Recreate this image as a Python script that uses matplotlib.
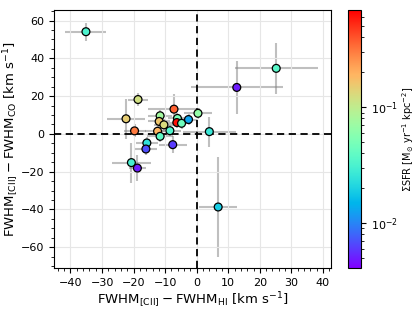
import numpy as np
import matplotlib
matplotlib.use("Agg")
import matplotlib.pyplot as plt
from matplotlib.colors import LogNorm

# FWHM differences (km/s)
d_hi = [-35.1, 25.2, 12.7, -18.6, -7.2, -22.4, -11.6, -11.9, -10.4, -6.1,
        -6.3, -4.8, -2.6, 0.4, 4.0, -19.7, -12.4, -8.5, -11.6, -15.8,
        -16.1, -7.6, -20.7, -18.8, 6.8]
d_co = [54.1, 34.7, 24.6, 18.2, 13.1, 8.0, 9.6, 6.6, 4.8, 8.2,
        6.0, 5.6, 7.6, 10.9, 1.2, 1.6, 1.4, 1.7, -1.3, -4.8,
        -8.0, -5.7, -15.2, -18.1, -38.7]
err_hi = [6.5, 13.2, 14.5, 3.2, 8.2, 5.9, 3.7, 3.5, 3.0, 3.0,
          3.0, 3.0, 3.0, 4.3, 8.5, 3.5, 4.0, 3.5, 4.0, 3.5,
          3.5, 4.5, 6.3, 2.8, 6.1]
err_co = [4.8, 13.4, 14.1, 3.5, 8.1, 10.6, 3.0, 3.0, 3.0, 3.0,
          3.0, 3.0, 3.0, 3.0, 8.0, 3.5, 3.0, 3.0, 3.0, 3.0,
          3.0, 4.5, 10.6, 6.8, 26.5]
sfr = [0.032, 0.036, 0.005, 0.12, 0.36, 0.15, 0.075, 0.16, 0.13, 0.05,
       0.62, 0.045, 0.013, 0.065, 0.026, 0.30, 0.19, 0.033, 0.038, 0.024,
       0.0068, 0.006, 0.03, 0.005, 0.019]

fig = plt.figure(figsize=(4.16, 3.12), dpi=100)
ax = fig.add_axes([0.130, 0.141, 0.666, 0.827])
cax = fig.add_axes([0.837, 0.141, 0.031, 0.827])

ax.grid(True, color="0.9", lw=0.8, zorder=0)
ax.errorbar(d_hi, d_co, xerr=err_hi, yerr=err_co, fmt="none",
            ecolor="grey", alpha=0.5, elinewidth=1.5, zorder=1)
ax.axhline(0, color="k", ls=(0, (4, 2.5)), lw=1.3, zorder=2)
ax.axvline(0, color="k", ls=(0, (4, 2.5)), lw=1.3, zorder=2)
sc = ax.scatter(d_hi, d_co, c=sfr, cmap="rainbow",
                norm=LogNorm(vmin=0.0041, vmax=0.69),
                s=32, edgecolors="k", linewidths=0.9, zorder=3)

ax.set_xlim(-45.2, 42.6)
ax.set_ylim(-71, 65.6)
ax.set_xticks(range(-40, 41, 10))
ax.set_yticks(range(-60, 61, 20))
ax.minorticks_on()
ax.tick_params(labelsize=8)
ax.set_xlabel(r"FWHM$_{\rm [CII]}-$FWHM$_{\rm HI}$ [km s$^{-1}$]", fontsize=9.5, labelpad=2)
ax.set_ylabel(r"FWHM$_{\rm [CII]}-$FWHM$_{\rm CO}$ [km s$^{-1}$]", fontsize=9.5, labelpad=0)

cb = fig.colorbar(sc, cax=cax)
cb.ax.tick_params(labelsize=8)
cb.set_label(r"$\Sigma$SFR [M$_{\odot}$ yr$^{-1}$ kpc$^{-2}$]", fontsize=7, labelpad=2)

fig.savefig("out.png", dpi=100)
